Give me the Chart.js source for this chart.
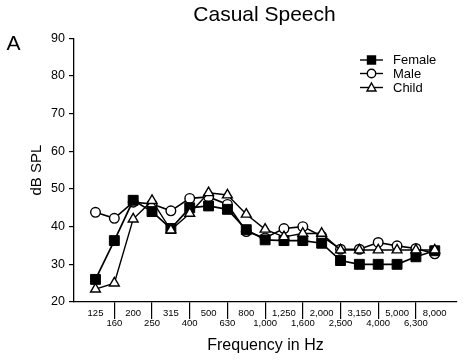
<!DOCTYPE html>
<html>
<head>
<meta charset="utf-8">
<script src="https://cdn.jsdelivr.net/npm/chart.js@4/dist/chart.umd.min.js"></script>
<style>
  body { margin: 0; background: #fff; }
  #wrap { width: 469px; height: 363px; position: relative; }
</style>
</head>
<body>
<div id="wrap"><canvas id="speechChart"></canvas></div>
<script>
// frequenze (Hz)
const frequenze = ['125', '160', '200', '250', '315', '400', '500', '630', '800', '1,000',
  '1,250', '1,600', '2,000', '2,500', '3,150', '4,000', '5,000', '6,300', '8,000'];

// livelli dB SPL
const female = [26, 36.3, 47, 44, 39.5, 45, 45.5, 44.6, 39.2, 36.5, 36.3, 36.3, 35.6, 31, 30, 30, 30, 32, 33.6];
const male   = [43.8, 42.2, 46.5, 46, 44.2, 47.5, 47.9, 45.9, 38.7, 37, 39.5, 40, 37.5, 34, 34, 35.8, 34.9, 34.2, 32.8];
const child  = [23.4, 25, 42, 46.9, 39.1, 43.5, 49, 48.4, 43.3, 39.3, 37.3, 38.2, 38.2, 33.8, 33.8, 33.8, 33.8, 33.8, 33.8];

const yTicks = [20, 30, 40, 50, 60, 70, 80, 90];

const FONT = "'Liberation Sans', Arial, Helvetica, sans-serif";

function punti(valori) {
  return valori.map((v, i) => ({ x: i, y: v }));
}

// TITOLO, LETTERA "A" E LEGENDA
const decorazioni = {
  id: 'decorazioni',
  afterDraw(chart) {
    const ctx = chart.ctx;
    ctx.save();
    ctx.fillStyle = '#000';
    ctx.textBaseline = 'alphabetic';
    ctx.font = '21px ' + FONT;
    ctx.textAlign = 'center';
    ctx.fillText('Casual Speech', 264.5, 21);
    ctx.textAlign = 'left';
    ctx.fillText('A', 6.5, 50);

    const righe = [
      { nome: 'Female', stile: 'rect', fill: '#000', y: 60 },
      { nome: 'Male', stile: 'circle', fill: '#fff', y: 73.5 },
      { nome: 'Child', stile: 'triangle', fill: '#fff', y: 87.5 }
    ];
    righe.forEach(r => {
      ctx.strokeStyle = '#000';
      ctx.lineWidth = 1.4;
      ctx.beginPath();
      ctx.moveTo(360, r.y);
      ctx.lineTo(383, r.y);
      ctx.stroke();
      ctx.fillStyle = r.fill;
      ctx.beginPath();
      if (r.stile === 'rect') {
        ctx.rect(367.5, r.y - 4, 8, 8);
      } else if (r.stile === 'circle') {
        ctx.arc(371.5, r.y, 4.2, 0, Math.PI * 2);
      } else {
        ctx.moveTo(371.5, r.y - 4.5);
        ctx.lineTo(376, r.y + 3.5);
        ctx.lineTo(367, r.y + 3.5);
        ctx.closePath();
      }
      ctx.fill();
      ctx.stroke();
      ctx.fillStyle = '#000';
      ctx.font = '13px ' + FONT;
      ctx.textBaseline = 'middle';
      ctx.fillText(r.nome, 393, r.y + 0.5);
    });
    ctx.restore();
  }
};

const ctx = document.getElementById('speechChart').getContext('2d');
const chart = new Chart(ctx, {
  type: 'line',
  data: {
    datasets: [
      {
        label: 'Child',
        data: punti(child),
        borderColor: '#000',
        borderWidth: 1.4,
        pointStyle: 'triangle',
        pointRadius: 5.7,
        pointBackgroundColor: '#fff',
        pointBorderColor: '#000',
        pointBorderWidth: 1.4,
        order: 0
      },
      {
        label: 'Female',
        data: punti(female),
        borderColor: '#000',
        borderWidth: 1.7,
        pointStyle: 'rect',
        pointRadius: 7,
        pointBackgroundColor: '#000',
        pointBorderColor: '#000',
        pointBorderWidth: 1,
        order: 1
      },
      {
        label: 'Male',
        data: punti(male),
        borderColor: '#000',
        borderWidth: 1.6,
        pointStyle: 'circle',
        pointRadius: 4.8,
        pointBackgroundColor: '#fff',
        pointBorderColor: '#000',
        pointBorderWidth: 1.4,
        order: 2
      }
    ]
  },
  options: {
    responsive: true,
    maintainAspectRatio: false,
    animation: false,
    layout: { padding: { top: 38.3, right: 12, left: 0, bottom: 0 } },
    plugins: {
      legend: { display: false },
      tooltip: { enabled: false }
    },
    scales: {
      x: {
        type: 'linear',
        min: -1.14,
        max: 19.18,
        afterFit: (scale) => { scale.height = 61; },
        border: { color: '#000', width: 1.3 },
        grid: {
          drawOnChartArea: false,
          tickLength: 17,
          lineWidth: 1.2,
          color: (c) => {
            const v = c.tick ? c.tick.value : null;
            return (Number.isInteger(v) && v >= 0 && v <= 18 && v % 2 === 1) ? '#000' : 'rgba(0,0,0,0)';
          }
        },
        ticks: {
          stepSize: 1,
          includeBounds: false,
          autoSkip: false,
          maxRotation: 0,
          padding: -10,
          color: '#000',
          font: { family: FONT, size: 9.5, lineHeight: 1.0 },
          callback: (value) => {
            if (!Number.isInteger(value) || value < 0 || value > 18) return '';
            return value % 2 === 0 ? [frequenze[value], ''] : ['', frequenze[value]];
          }
        },
        title: {
          display: true,
          text: 'Frequency in Hz',
          color: '#000',
          font: { family: FONT, size: 16 },
          padding: { top: 0, bottom: 7.4 }
        }
      },
      y: {
        min: yTicks[0],
        max: yTicks[yTicks.length - 1],
        afterFit: (scale) => { scale.width = 74; },
        border: { color: '#000', width: 1.3 },
        grid: { drawOnChartArea: false, tickLength: 5, color: '#000', lineWidth: 1.2 },
        ticks: {
          stepSize: 10,
          padding: 4,
          color: '#000',
          font: { family: FONT, size: 12.5 }
        },
        title: {
          display: true,
          text: 'dB SPL',
          color: '#000',
          font: { family: FONT, size: 15 },
          padding: { top: 28, bottom: 0 }
        }
      }
    }
  },
  plugins: [decorazioni]
});
</script>
</body>
</html>
